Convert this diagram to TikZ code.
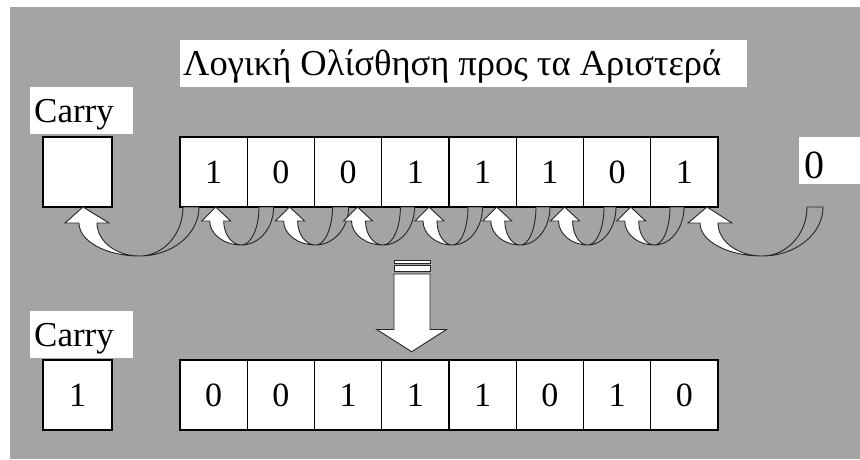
\documentclass[tikz,border=0pt]{standalone}
\usepackage{fontspec}
\setmainfont{Liberation Serif}
\definecolor{bgc}{RGB}{164,164,164}
\newcommand\cuarrow[9]{%
  \pgfmathsetmacro\Bx{((#6+#3)/2+(#7+#2)/2)/2}%
  \pgfmathsetmacro\byk{207+0.552*(#9-207)}%
  \pgfmathsetmacro\ciA{\Bx+0.552*(#2-\Bx)}%
  \pgfmathsetmacro\coA{\Bx+0.552*(#3-\Bx)}%
  \pgfmathsetmacro\nyk{#8+0.552*(#9-#8)}%
  \pgfmathsetmacro\foA{\Bx-0.552*(\Bx-#6)}%
  \pgfmathsetmacro\fiA{\Bx-0.552*(\Bx-#7)}%
  \draw[arrline, fill=bgc] (#2,207) .. controls (#2,\byk) and (\ciA,#9) .. (\Bx,#9)
     .. controls (\coA,#9) and (#3,\byk) .. (#3,207) -- cycle;
  \draw[arrline, fill=white] (\Bx,#9) .. controls (\foA,#9) and (#6,\nyk) .. (#6,#8)
     -- (#4,#8) -- (#1,207) -- (#5,#8) -- (#7,#8)
     .. controls (#7,\nyk) and (\fiA,#9) .. (\Bx,#9) -- cycle;
}
\begin{document}
\begin{tikzpicture}[x=1pt,y=-1pt,
  cell/.style={draw=black, line width=1.2pt, fill=white, minimum width=67.25pt,
    minimum height=70pt, inner sep=0pt, font=\fontsize{34}{36}\selectfont},
  cbox/.style={draw=black, line width=1.2pt, fill=white, minimum width=69pt,
    minimum height=70pt, inner sep=0pt, font=\fontsize{34}{36}\selectfont},
  wbox/.style={fill=white, draw=none, inner sep=0pt},
  lab/.style={inner sep=0pt, anchor=base west},
  arrline/.style={draw=black!85, line width=0.9pt, line join=miter}]
\useasboundingbox (0,0) rectangle (860,459);
\fill[white] (0,0) rectangle (860,459);
\fill[bgc] (10,7) rectangle (860,459);
% title
\node[wbox, minimum width=567pt, minimum height=47pt, anchor=north west] (tbox) at (180,40) {};
\node[lab, font=\fontsize{36.5}{40}\selectfont] (title) at (183,75) {Λογική Ολίσθηση προς τα Αριστερά};
% carry labels
\node[wbox, minimum width=103pt, minimum height=47pt, anchor=north west] (cl1box) at (30,87) {};
\node[lab, font=\fontsize{35}{38}\selectfont] (cl1) at (34,122) {Carry};
\node[wbox, minimum width=103pt, minimum height=47pt, anchor=north west] (cl2box) at (30,311) {};
\node[lab, font=\fontsize{35}{38}\selectfont] (cl2) at (34,346) {Carry};
% carry boxes
\node[cbox] (c1) at (77.5,172) {};
\node[cbox] (c2) at (77.5,395) {1};
% registers
\foreach \v [count=\i] in {1,0,0,1,1,1,0,1}
  \node[cell] (t\i) at ({180+67.25*(\i-0.5)},172) {\v};
\foreach \v [count=\i] in {0,0,1,1,1,0,1,0}
  \node[cell] (b\i) at ({180+67.25*(\i-0.5)},395) {\v};
% incoming zero
\node[wbox, minimum width=63pt, minimum height=47pt, anchor=north west] (zbox) at (799,137) {};
\node[lab, font=\fontsize{40}{44}\selectfont] (zero) at (804,178) {0};
% curved arrows
\cuarrow{83}{183}{199}{65}{109}{79}{97}{223}{256}
\foreach \t/\a/\b in {215.7/259/273.6, 289.6/332.5/348.6, 357.5/400.4/414.6,
   429/468/482.5, 496.8/536/550, 564.6/604/616, 630.7/670/684}{
  \pgfmathsetmacro\wl{\t-14}\pgfmathsetmacro\wr{\t+15}
  \pgfmathsetmacro\nl{\t-6}\pgfmathsetmacro\nr{\t+8}
  \cuarrow{\t}{\a}{\b}{\wl}{\wr}{\nl}{\nr}{221}{245}
}
\cuarrow{707}{807}{823}{688}{732}{700}{718}{223}{256}
% down striped arrow
\draw[arrline, fill=white] (394,260) rectangle (430,263);
\draw[arrline, fill=white] (394,265.5) rectangle (430,271.5);
\draw[arrline, fill=white] (394,274) -- (430,274) -- (430,329.5) -- (446.5,329.5)
  -- (411.7,351.7) -- (376.7,329.5) -- (394,329.5) -- cycle;
\end{tikzpicture}
\end{document}
